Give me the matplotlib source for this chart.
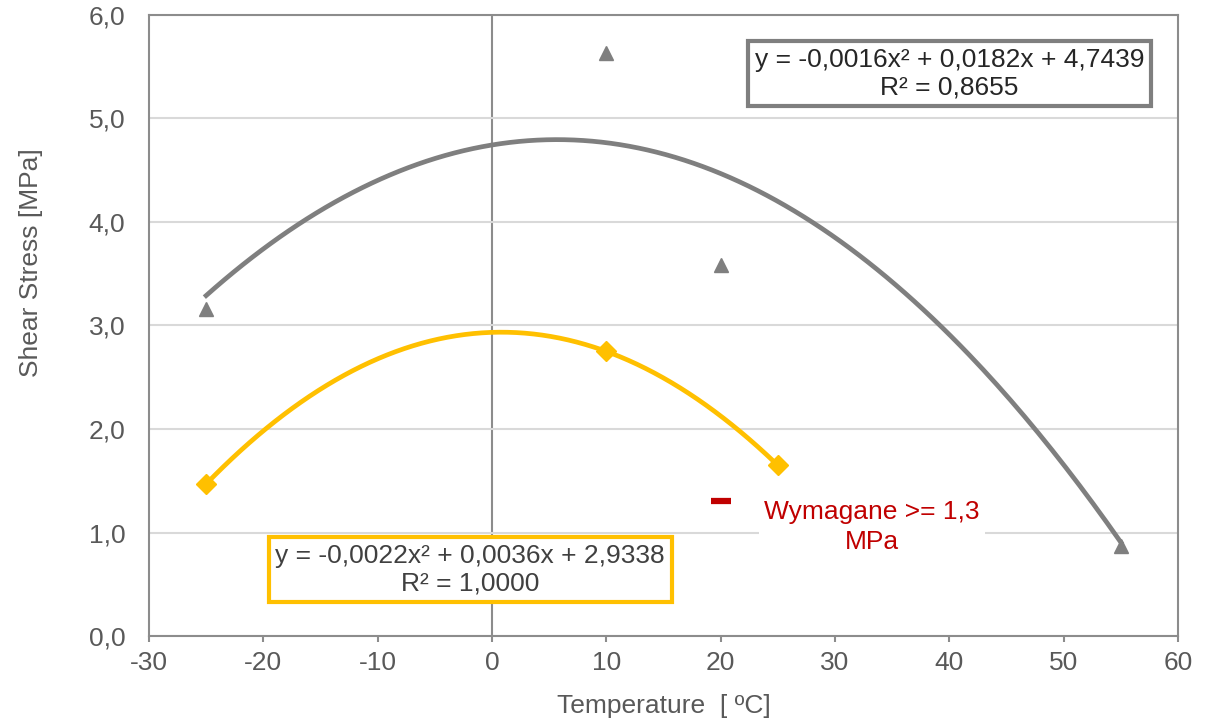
import numpy as np
import matplotlib
matplotlib.use("Agg")
import matplotlib.pyplot as plt
from matplotlib.ticker import FuncFormatter

plt.rcParams['font.family'] = ['Liberation Sans', 'DejaVu Sans']
plt.rcParams['axes.unicode_minus'] = False

# measured points
temp_gray = [-25, 10, 20, 55]
stress_gray = [3.16, 5.63, 3.58, 0.87]
temp_yellow = [-25, 10, 25]
stress_yellow = [1.47, 2.75, 1.65]

# trendline coefficients (as printed on the chart)
coef_gray = [-0.0016, 0.0182, 4.7439]
coef_yellow = [-0.0022, 0.0036, 2.9338]
r2_gray = 0.8655
r2_yellow = 1.0000

# required value
req_temp = [20]
req_stress = [1.3]

x_ticks = [-30, -20, -10, 0, 10, 20, 30, 40, 50, 60]
y_ticks = [0, 1, 2, 3, 4, 5, 6]

gray = '#7f7f7f'
yellow = '#ffc000'
red = '#c00000'
txt = '#595959'
FS = 19


def comma(v, pos=None):
    return f'{v:.1f}'.replace('.', ',')


def eq_label(c, r2):
    s = lambda v: f'{v:.4f}'.replace('.', ',')
    return f'y = {s(c[0])}x² + {s(c[1])}x + {s(c[2])}\nR² = {s(r2)}'


fig = plt.figure(figsize=(12.09, 7.23), dpi=100)
ax = fig.add_axes([0.1232, 0.1203, 0.8512, 0.859])

ax.set_xlim(-30, 60)
ax.set_ylim(0, 6)

# grid + axis at x=0
ax.set_yticks(y_ticks)
ax.set_xticks(x_ticks)
ax.grid(axis='y', color='#d9d9d9', linewidth=1.5, zorder=0)
ax.axvline(0, color='#8c8c8c', linewidth=1.5, zorder=1)

# trendlines
xg = np.linspace(min(temp_gray), max(temp_gray), 200)
ax.plot(xg, np.polyval(coef_gray, xg), color=gray, linewidth=3.4, zorder=3)
xy = np.linspace(min(temp_yellow), max(temp_yellow), 200)
ax.plot(xy, np.polyval(coef_yellow, xy), color=yellow, linewidth=3.4, zorder=3)

# data markers
ax.plot(temp_gray, stress_gray, linestyle='none', marker='^', markersize=10.5,
        color=gray, zorder=4)
ax.plot(temp_yellow, stress_yellow, linestyle='none', marker='D', markersize=10,
        color=yellow, zorder=4)
ax.plot(req_temp, req_stress, linestyle='none', marker='_', markersize=14,
        markeredgewidth=4.5, color=red, zorder=4)

ax.text(33.2, 1.05, 'Wymagane >= 1,3\nMPa', color=red, fontsize=FS,
        ha='center', va='center', linespacing=1.3, zorder=5,
        bbox=dict(boxstyle='square,pad=0.2', facecolor='white', edgecolor='none'))

# equation boxes
ax.text(40.0, 5.43, eq_label(coef_gray, r2_gray), color='#262626', fontsize=FS,
        ha='center', va='center', linespacing=1.2, zorder=5,
        bbox=dict(boxstyle='square,pad=0.25', facecolor='white', edgecolor=gray,
                  linewidth=3))
ax.text(-1.9, 0.64, eq_label(coef_yellow, r2_yellow), color='#404040', fontsize=FS,
        ha='center', va='center', linespacing=1.2, zorder=5,
        bbox=dict(boxstyle='square,pad=0.25', facecolor='white', edgecolor=yellow,
                  linewidth=3))

ax.yaxis.set_major_formatter(FuncFormatter(comma))
ax.xaxis.set_major_formatter(FuncFormatter(lambda v, p: f'{v:.0f}'))
ax.tick_params(axis='y', length=0, labelsize=FS, labelcolor=txt, pad=17)
ax.tick_params(axis='x', length=4, width=1.5, color='#8c8c8c', labelsize=FS,
               labelcolor=txt, pad=7)

for sp in ax.spines.values():
    sp.set_color('#8c8c8c')
    sp.set_linewidth(1.5)

ax.set_xlabel('Temperature  [ ºC]', fontsize=FS, color=txt)
ax.set_ylabel('Shear Stress [MPa]', fontsize=FS, color=txt)
ax.xaxis.set_label_coords(0.5, -0.093)
ax.yaxis.set_label_coords(-0.103, 0.602)

fig.savefig('out.png', dpi=100)
